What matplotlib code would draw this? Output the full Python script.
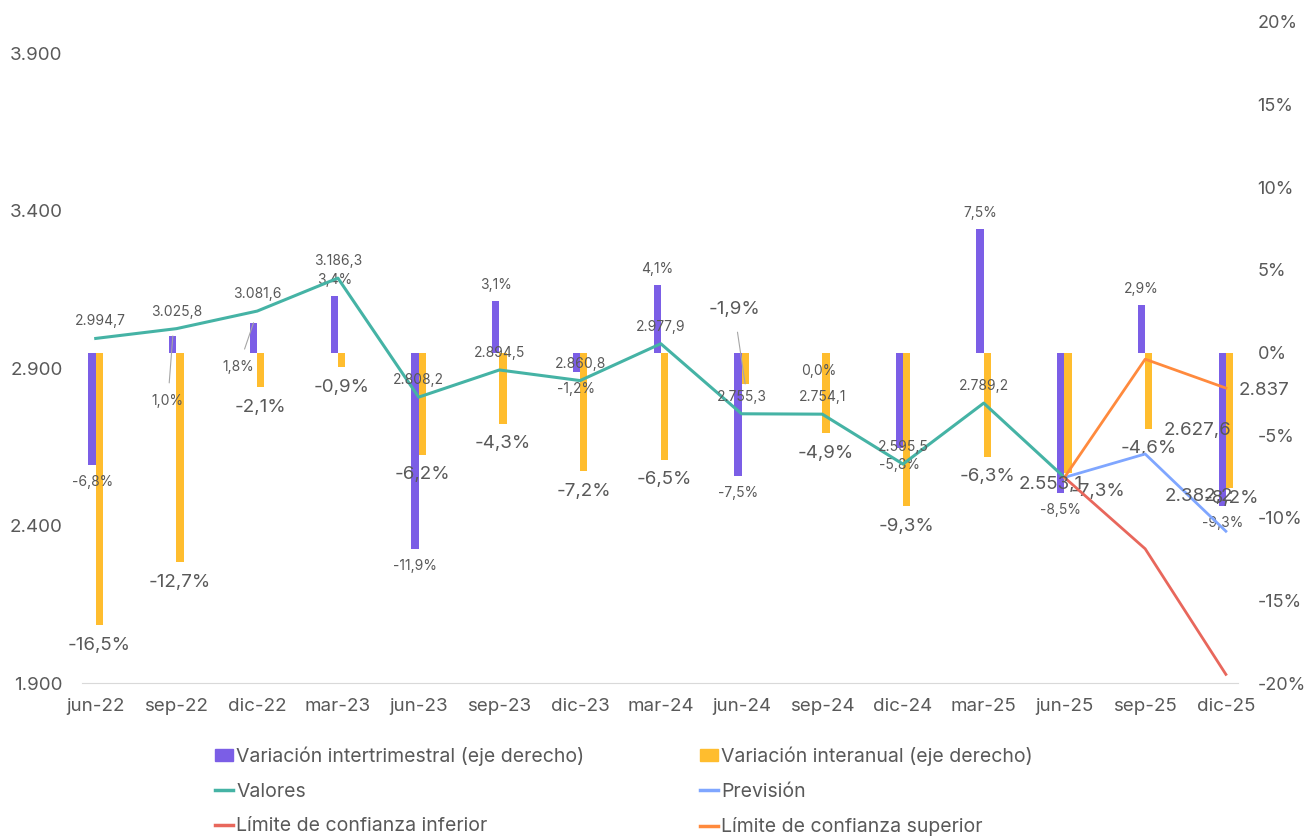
import matplotlib
matplotlib.use("Agg")
import matplotlib.pyplot as plt
from matplotlib.ticker import FuncFormatter
from matplotlib.lines import Line2D
from matplotlib.patches import Patch

plt.rcParams['font.family'] = ['Inter', 'DejaVu Sans']

# Datos
periodos = ["jun-22", "sep-22", "dic-22", "mar-23", "jun-23", "sep-23", "dic-23",
            "mar-24", "jun-24", "sep-24", "dic-24", "mar-25", "jun-25", "sep-25", "dic-25"]
var_intertrimestral = [-6.8, 1.0, 1.8, 3.4, -11.9, 3.1, -1.2, 4.1, -7.5, 0.0, -5.8, 7.5, -8.5, 2.9, -9.3]
var_interanual = [-16.5, -12.7, -2.1, -0.9, -6.2, -4.3, -7.2, -6.5, -1.9, -4.9, -9.3, -6.3, -7.3, -4.6, -8.2]
valores = [2994.7, 3025.8, 3081.6, 3186.3, 2808.2, 2894.5, 2860.8, 2977.9,
           2755.3, 2754.1, 2595.5, 2789.2, 2553.1]
prevision = [2553.1, 2627.6, 2382.2]
limite_inferior = [2553.1, 2326.4, 1927.4]
limite_superior = [2553.1, 2928.8, 2837.0]

# Colores
c_morado = "#7B5EE6"
c_amarillo = "#FFBD2E"
c_verde = "#45B3A5"
c_azul = "#7FA6FF"
c_rojo = "#E8675C"
c_naranja = "#FF8A3D"
c_texto = "#595959"

def fmt_num(v, dec=1):
    s = f"{v:,.{dec}f}"
    return s.replace(",", "X").replace(".", ",").replace("X", ".")

def fmt_pct(v):
    return f"{v:.1f}".replace(".", ",") + "%"

x = list(range(len(periodos)))
x_prev = x[12:]

fig = plt.figure(figsize=(13.16, 8.36), dpi=100)
ax_bar = fig.add_axes([82 / 1316, 1 - 683 / 836, (1238 - 82) / 1316, (683 - 22) / 836])
ax = ax_bar.twinx()

ancho = 0.09
xb1 = [i - ancho / 2 for i in x]
xb2 = [i + ancho / 2 for i in x]
ax_bar.bar(xb1, var_intertrimestral, width=ancho, color=c_morado, zorder=2)
ax_bar.bar(xb2, var_interanual, width=ancho, color=c_amarillo, zorder=2)
ax_bar.set_ylim(-20, 20)
ax_bar.set_yticks(range(-20, 21, 5))
ax_bar.yaxis.tick_right()
ax_bar.yaxis.set_major_formatter(FuncFormatter(lambda v, p: f"{int(v)}%"))
ax_bar.set_xlim(-0.17, 14.15)
ax_bar.set_xticks(x)
ax_bar.set_xticklabels(periodos)

ax.plot(x[:13], valores, color=c_verde, lw=2.2, zorder=3)
ax.plot(x_prev, prevision, color=c_azul, lw=2.0, zorder=3)
ax.plot(x_prev, limite_inferior, color=c_rojo, lw=2.0, zorder=3)
ax.plot(x_prev, limite_superior, color=c_naranja, lw=2.0, zorder=3)
ax.set_ylim(1900, 4000)
ax.set_yticks(range(1900, 3901, 500))
ax.yaxis.tick_left()
ax.yaxis.set_major_formatter(FuncFormatter(lambda v, p: fmt_num(v, 0)))
ax.set_xlim(-0.17, 14.15)

for a in (ax, ax_bar):
    for s in a.spines.values():
        s.set_visible(False)
    a.tick_params(length=0, colors=c_texto)
ax_bar.spines['bottom'].set_visible(True)
ax_bar.spines['bottom'].set_color("#D9D9D9")
ax_bar.tick_params(axis='x', pad=11, labelsize=13.5)
ax_bar.tick_params(axis='y', pad=14, labelsize=13)
ax.tick_params(axis='y', pad=14, labelsize=13.5)

# Etiquetas de valores
off_val = [(5, 17)] + [(0, 17)] * 11 + [(-14, -7)]
for i, v in enumerate(valores):
    big = i == 12
    ax.annotate(fmt_num(v), (x[i], v), xytext=off_val[i], textcoords="offset pixels",
                ha="center", va="center", fontsize=13.5 if big else 10, color=c_texto, zorder=5)

off_prev = [(52, 23), (-27, 35)]
for k, i in enumerate(x_prev[1:]):
    v = prevision[k + 1]
    ax.annotate(fmt_num(v), (i, v), xytext=off_prev[k], textcoords="offset pixels",
                ha="center", va="center", fontsize=13.5, color=c_texto, zorder=5)
ax.annotate(fmt_num(limite_superior[-1], 0), (x_prev[-1], limite_superior[-1]), xytext=(38, -2),
            textcoords="offset pixels", ha="center", va="center", fontsize=13.5, color=c_texto, zorder=5)

# Etiquetas de barras intertrimestrales
off_int = {1: (-5, -65), 2: (-15, -44), 9: (0, -18)}
con_guia = {1, 2}
for i, v in enumerate(var_intertrimestral):
    dx, dy = off_int.get(i, (0, 16 if v > 0 else -17))
    props = dict(arrowstyle="-", color="#A6A6A6", lw=0.8, shrinkA=6, shrinkB=0) if i in con_guia else None
    ax_bar.annotate(fmt_pct(v), (xb1[i], v), xytext=(dx, dy), textcoords="offset pixels",
                    ha="center", va="center", fontsize=10, color=c_texto, arrowprops=props, zorder=5)

# Etiquetas de barras interanuales
off_anual = {8: (-11, 74), 12: (30, -18), 14: (2, -10)}
for i, v in enumerate(var_interanual):
    dx, dy = off_anual.get(i, (0, -20))
    props = dict(arrowstyle="-", color="#A6A6A6", lw=0.8, shrinkA=8, shrinkB=0) if i == 8 else None
    ax_bar.annotate(fmt_pct(v), (xb2[i], v), xytext=(dx, dy), textcoords="offset pixels",
                    ha="center", va="center", fontsize=13.5, color=c_texto, arrowprops=props, zorder=5)

# Leyenda
h1 = [Patch(color=c_morado), Line2D([], [], color=c_verde, lw=2.5), Line2D([], [], color=c_rojo, lw=2.5)]
l1 = ["Variación intertrimestral (eje derecho)", "Valores", "Límite de confianza inferior"]
h2 = [Patch(color=c_amarillo), Line2D([], [], color=c_azul, lw=2.5), Line2D([], [], color=c_naranja, lw=2.5)]
l2 = ["Variación interanual (eje derecho)", "Previsión", "Límite de confianza superior"]
for hs, ls, xpos in ((h1, l1, 205 / 1316), (h2, l2, 690 / 1316)):
    leg = fig.legend(hs, ls, loc="upper left", bbox_to_anchor=(xpos, 1 - 737 / 836), frameon=False,
                     fontsize=14, labelcolor=c_texto, handlelength=0.95, handleheight=0.55,
                     handletextpad=0.15, labelspacing=0.85, borderpad=0)

fig.savefig("out.png", dpi=100, facecolor="white")
